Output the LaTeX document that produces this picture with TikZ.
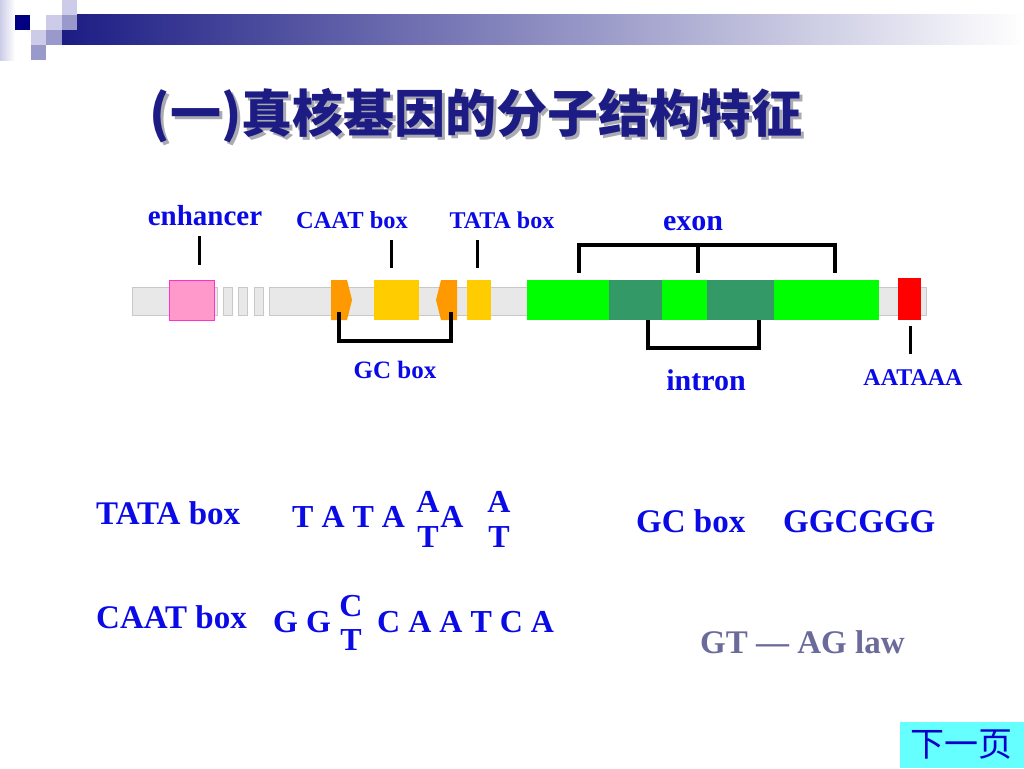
\documentclass[tikz,border=0pt]{standalone}
\usepackage{fontspec}
\setmainfont{Liberation Serif}
\newfontfamily\cjk{Noto Sans CJK SC}
\definecolor{lblue}{RGB}{10,10,230}
\definecolor{navy}{RGB}{28,28,132}
\definecolor{lav}{RGB}{204,204,232}
\definecolor{mlav}{RGB}{153,153,204}
\definecolor{dnavy}{RGB}{0,0,128}
\definecolor{bbgray}{RGB}{232,232,232}
\definecolor{bbedge}{RGB}{200,200,200}
\definecolor{pinkf}{RGB}{255,153,204}
\definecolor{pinke}{RGB}{255,51,204}
\definecolor{orangef}{RGB}{255,153,0}
\definecolor{yellowf}{RGB}{255,204,0}
\definecolor{brgreen}{RGB}{0,255,0}
\definecolor{dkgreen}{RGB}{51,153,102}
\definecolor{redf}{RGB}{255,0,0}
\definecolor{slate}{RGB}{107,107,155}
\definecolor{cyanf}{RGB}{102,255,255}
\definecolor{btnblue}{RGB}{0,0,204}
\definecolor{shadowgray}{RGB}{170,170,178}
\newcommand{\fs}[1]{\fontsize{#1}{#1}\selectfont}
\newcommand{\titletext}{(一)真核基因的分子结构特征}
\begin{document}
\begin{tikzpicture}[x=1pt,y=-1pt,
  lbl/.style={text=lblue,font=\bfseries\fs{25},inner sep=0pt,anchor=base},
  biglbl/.style={text=lblue,font=\bfseries\fs{30},inner sep=0pt,anchor=base},
  seq/.style={text=lblue,font=\bfseries\fs{33},inner sep=0pt,anchor=base west},
  stk/.style={text=lblue,font=\bfseries\fs{32},inner sep=0pt,anchor=base},
  tick/.style={line width=3pt,black},
  brk/.style={line width=3.2pt,black},
  bb/.style={fill=bbgray,draw=bbedge,line width=0.8pt}]
\useasboundingbox (0,0) rectangle (1024,768);
\fill[white] (0,0) rectangle (1024,768);
% header decoration
\shade[left color=lav,right color=white] (0,0) rectangle (15,60);
\shade[left color=navy,middle color={rgb,255:red,175;green,175;blue,195},right color=white] (62,15) rectangle (1024,45);
\fill[lav] (62,0) rectangle (77,15);
\fill[dnavy] (15,15) rectangle (30,30);
\fill[lav] (46,15) rectangle (62,30);
\fill[mlav] (62,15) rectangle (77,30);
\fill[lav] (31,30) rectangle (46,45);
\fill[mlav] (46,30) rectangle (62,45);
\fill[mlav] (31,45) rectangle (46,60);
% title with shadow in one node
\node[text=navy,font=\cjk\bfseries\fs{51},inner sep=0pt] (title) at (476,117)
  {\rlap{\hspace{3pt}\raisebox{-3pt}{\color{shadowgray}\titletext}}\titletext};
% backbone
\draw[bb] (132,287) rectangle (217,315);
\draw[bb] (223,287) rectangle (232,315);
\draw[bb] (238,287) rectangle (247,315);
\draw[bb] (254,287) rectangle (263,315);
\draw[bb] (269,287) rectangle (926,315);
% elements
\draw[fill=pinkf,draw=pinke,line width=0.8pt] (169,280) rectangle (214,320);
\coordinate (enhbox) at (199,265);
\fill[orangef] (331,280) -- (347,280) -- (352,300) -- (347,320) -- (331,320) -- cycle;
\fill[yellowf] (374,280) rectangle (419,320);
\fill[orangef] (441,280) -- (457,280) -- (457,320) -- (441,320) -- (436,300) -- cycle;
\fill[yellowf] (467,280) rectangle (491,320);
\fill[brgreen] (527,280) rectangle (609,320);
\fill[dkgreen] (609,280) rectangle (662,320);
\fill[brgreen] (662,280) rectangle (707,320);
\fill[dkgreen] (707,280) rectangle (774,320);
\fill[brgreen] (774,280) rectangle (879,320);
\fill[redf] (898,278) rectangle (921,320);
% labels top
\node[biglbl,font=\bfseries\fs{29}] (enh) at (205,225) {enhancer};
\node[lbl,font=\bfseries\fs{24.5}] (caat) at (352,228) {CAAT box};
\node[lbl,font=\bfseries\fs{24}] (tata) at (502,228) {TATA box};
\node[biglbl] (exon) at (693,230) {exon};
\node[lbl] (gc) at (395,378) {GC box};
\node[biglbl] (intron) at (706,390) {intron};
\node[lbl,font=\bfseries\fs{24}] (aat) at (913,385) {AATAAA};
% ticks
\coordinate (e1) at (199,236);
\draw[tick] (e1) -- (enhbox);
\coordinate (c1) at (391,240); \coordinate (c2) at (391,268);
\draw[tick] (c1) -- (c2);
\coordinate (t1) at (477,240); \coordinate (t2) at (477,268);
\draw[tick] (t1) -- (t2);
\coordinate (a1) at (910,326); \coordinate (a2) at (910,354);
\draw[tick] (a1) -- (a2);
% brackets
\coordinate (g1) at (339,312); \coordinate (g2) at (451,312);
\draw[brk] (g1) -- (339,341) -- (451,341) -- (g2);
\coordinate (x1) at (579,273); \coordinate (x2) at (698,273); \coordinate (x3) at (835,273);
\draw[brk] (x1) -- (579,245) -- (835,245) -- (x3);
\draw[brk] (698,245) -- (x2);
\coordinate (i1) at (648,320); \coordinate (i2) at (759,320);
\draw[brk] (i1) -- (648,348) -- (759,348) -- (i2);
% bottom section
\node[seq] (tatal) at (96,524) {TATA box};
\node[seq,font=\bfseries\fs{32}] (tatas) at (292,527) {T A T A};
\node[stk] (sa1) at (428,512) {A};
\node[stk] (st1) at (428,547) {T};
\node[stk] (sa2) at (452,527) {A};
\node[stk] (sa3) at (499,512) {A};
\node[stk] (st3) at (499,547) {T};
\node[seq] (caatl) at (96,628) {CAAT box};
\node[seq,font=\bfseries\fs{32}] (gg) at (273,632) {G G};
\node[stk] (sc) at (351,616) {C};
\node[stk] (stc) at (351,650) {T};
\node[seq,font=\bfseries\fs{32}] (caats) at (377,632) {C A A T C A};
\node[seq] (gcl) at (636,532) {GC box};
\node[seq] (gcs) at (783,532) {GGCGGG};
\node[seq,text=slate] (law) at (700,653) {GT — AG law};
% next page button
\fill[cyanf] (900,722) rectangle (1024,768);
\node[text=btnblue,font=\cjk\fs{34},inner sep=0pt] (next) at (961,745) {下一页};
\end{tikzpicture}
\end{document}
